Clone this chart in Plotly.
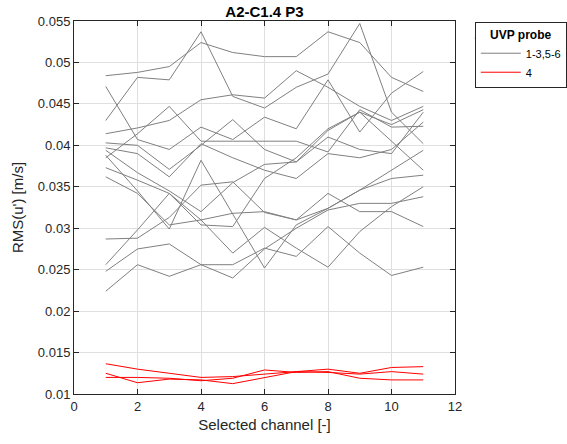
import plotly.graph_objects as go

channels = list(range(1, 12))

gray_series = [
    [0.0484, 0.0488, 0.0495, 0.0524, 0.0512, 0.0507, 0.0507, 0.0537, 0.0524, 0.0482, 0.0465],
    [0.0430, 0.0482, 0.0479, 0.0537, 0.0459, 0.0445, 0.0470, 0.0486, 0.0547, 0.0440, 0.0402],
    [0.0414, 0.0421, 0.0430, 0.0455, 0.0461, 0.0457, 0.0490, 0.0470, 0.0447, 0.0430, 0.0447],
    [0.0471, 0.0407, 0.0395, 0.0422, 0.0407, 0.0434, 0.0420, 0.0479, 0.0416, 0.0463, 0.0489],
    [0.0385, 0.0414, 0.0447, 0.0405, 0.0405, 0.0405, 0.0405, 0.0392, 0.0443, 0.0422, 0.0423],
    [0.0403, 0.0400, 0.0371, 0.0400, 0.0431, 0.0395, 0.0380, 0.0418, 0.0440, 0.0425, 0.0443],
    [0.0397, 0.0390, 0.0362, 0.0402, 0.0385, 0.0370, 0.0360, 0.0390, 0.0385, 0.0395, 0.0428],
    [0.0394, 0.0367, 0.0345, 0.0320, 0.0355, 0.0377, 0.0380, 0.0410, 0.0395, 0.0390, 0.0440],
    [0.0388, 0.0345, 0.0299, 0.0382, 0.0317, 0.0252, 0.0304, 0.0324, 0.0346, 0.0370, 0.0394],
    [0.0373, 0.0358, 0.0342, 0.0304, 0.0302, 0.0360, 0.0385, 0.0420, 0.0440, 0.0405, 0.0370],
    [0.0362, 0.0342, 0.0304, 0.0310, 0.0318, 0.0320, 0.0310, 0.0342, 0.0320, 0.0320, 0.0302],
    [0.0287, 0.0288, 0.0313, 0.0352, 0.0356, 0.0319, 0.0310, 0.0324, 0.0346, 0.0360, 0.0364],
    [0.0256, 0.0298, 0.0342, 0.0310, 0.0270, 0.0301, 0.0276, 0.0253, 0.0296, 0.0326, 0.0350],
    [0.0248, 0.0275, 0.0281, 0.0256, 0.0256, 0.0276, 0.0266, 0.0302, 0.0270, 0.0243, 0.0253],
    [0.0224, 0.0256, 0.0242, 0.0256, 0.0240, 0.0275, 0.0300, 0.0322, 0.0330, 0.0330, 0.0338],
]

red_series = [
    [0.01365, 0.0130, 0.0125, 0.0120, 0.0121, 0.0124, 0.0127, 0.0130, 0.0125, 0.0132, 0.0133],
    [0.0125, 0.01136, 0.0118, 0.0117, 0.01125, 0.0120, 0.0127, 0.0126, 0.0124, 0.0127, 0.0124],
    [0.0120, 0.0120, 0.0119, 0.0116, 0.0119, 0.0129, 0.0126, 0.0127, 0.0119, 0.0117, 0.0117],
]

legend_labels = ["1-3,5-6", "4"]
x_ticks = [0, 2, 4, 6, 8, 10, 12]
y_ticks = [0.01, 0.015, 0.02, 0.025, 0.03, 0.035, 0.04, 0.045, 0.05, 0.055]
y_ticktext = ["0.01", "0.015", "0.02", "0.025", "0.03", "0.035", "0.04", "0.045", "0.05", "0.055"]

FONT = "Liberation Sans, Arial, Helvetica, sans-serif"
AX = "#262626"

fig = go.Figure()
for i, s in enumerate(gray_series):
    fig.add_trace(go.Scatter(x=channels, y=s, mode="lines",
                             line=dict(color="#808080", width=1),
                             name=legend_labels[0], legendgroup="g",
                             showlegend=(i == 0)))
for i, s in enumerate(red_series):
    fig.add_trace(go.Scatter(x=channels, y=s, mode="lines",
                             line=dict(color="#ff0000", width=1),
                             name=legend_labels[1], legendgroup="r",
                             showlegend=(i == 0)))

axis_common = dict(showline=True, linecolor=AX, linewidth=1, mirror="ticks",
                   ticks="inside", ticklen=5, tickcolor=AX, tickwidth=1,
                   showgrid=True, gridcolor="#dfdfdf", gridwidth=1,
                   zeroline=False, tickfont=dict(family=FONT, size=13, color=AX))

fig.update_xaxes(range=[0, 12], tickvals=x_ticks,
                 title=dict(text="Selected channel [-]", font=dict(family=FONT, size=15, color=AX), standoff=6),
                 **axis_common)
fig.update_yaxes(range=[0.01, 0.055], tickvals=y_ticks, ticktext=y_ticktext,
                 title=dict(text="RMS(u') [m/s]", font=dict(family=FONT, size=15, color=AX), standoff=10),
                 **axis_common)

fig.update_layout(
    width=567, height=444,
    margin=dict(l=74, r=112, t=21, b=50, autoexpand=False),
    paper_bgcolor="white", plot_bgcolor="white",
    title=dict(text="<b>A2-C1.4 P3</b>", x=(74 + 455) / 2 / 567, xanchor="center",
               y=1 - 12 / 444, yanchor="middle",
               font=dict(family=FONT, size=15, color="black")),
    showlegend=True,
    legend=dict(x=1.052, y=0.997, xanchor="left", yanchor="top",
                bordercolor=AX, borderwidth=1, bgcolor="white",
                font=dict(family=FONT, size=11, color="black"),
                title=dict(text="<b>UVP probe</b>", font=dict(family=FONT, size=12, color="black"), side="top center"),
                tracegroupgap=0, itemwidth=40),
)

fig.add_shape(type="line", xref="paper", yref="paper",
              x0=1.052, x1=1.3, y0=(394.5 - 38) / 373.8, y1=(394.5 - 38) / 373.8,
              line=dict(color=AX, width=1))

fig.write_html("out.html")
